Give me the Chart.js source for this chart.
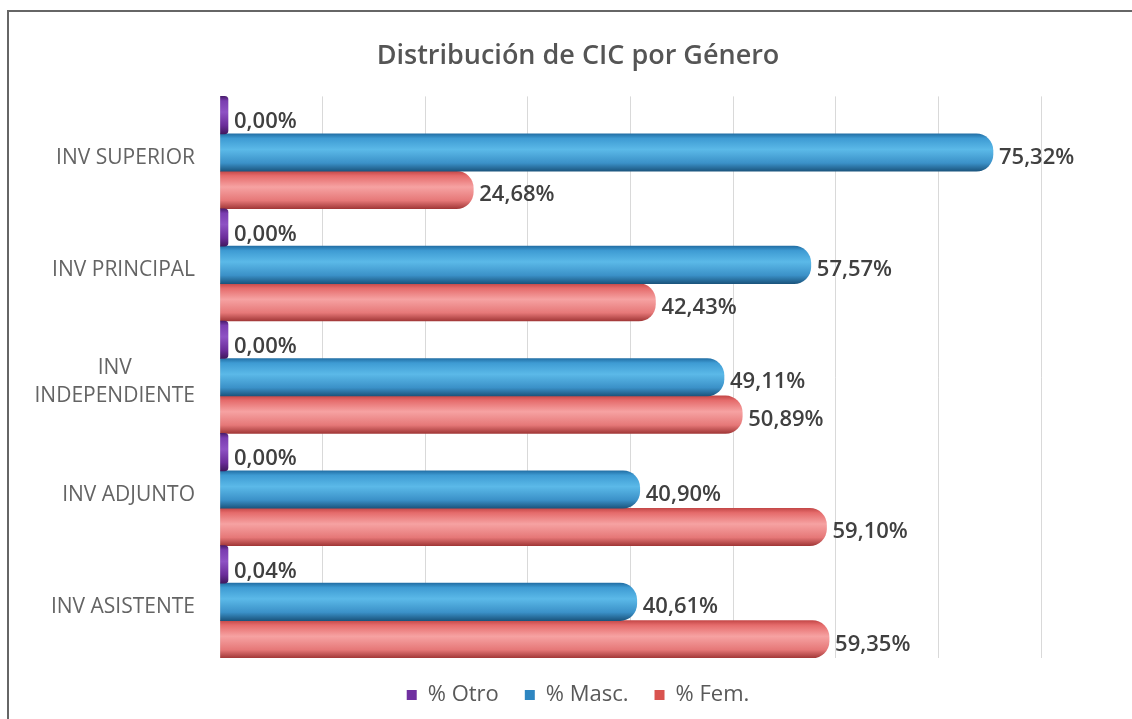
<!DOCTYPE html>
<html>
<head>
<meta charset="utf-8">
<script src="https://cdn.jsdelivr.net/npm/chart.js@4"></script>
<style>
  html, body { margin: 0; padding: 0; background: #fff; }
  #wrap { width: 1132px; height: 719px; }
</style>
</head>
<body>
<div id="wrap"><canvas id="cicChart" width="1132" height="719"></canvas></div>
<script>
const categories = ["INV SUPERIOR", "INV PRINCIPAL", ["INV", "INDEPENDIENTE"], "INV ADJUNTO", "INV ASISTENTE"];
const otro = [0.00, 0.00, 0.00, 0.00, 0.04];
const masc = [75.32, 57.57, 49.11, 40.90, 40.61];
const fem = [24.68, 42.43, 50.89, 59.10, 59.35];
const seriesNames = ["% Otro", "% Masc.", "% Fem."];
const xMax = 80;

// colour stops across the bar thickness, for the tube look
const shades = {
  otro: ["#4a1d6e", "#7a3db0", "#8e52c4", "#6a2c99", "#42195f"],
  masc: ["#2370a6", "#3e9bd3", "#5bb9e8", "#3b91c8", "#1b557e"],
  fem: ["#c44848", "#e56b6b", "#f6a2a2", "#e67878", "#a23838"]
};

const tubePlugin = {
  id: "tube",
  beforeDatasetsDraw(chart) {
    const ctx = chart.ctx;
    chart.data.datasets.forEach((ds, i) => {
      const meta = chart.getDatasetMeta(i);
      const s = shades[ds.key];
      meta.data.forEach(el => {
        const h = el.height;
        const g = ctx.createLinearGradient(0, el.y - h / 2, 0, el.y + h / 2);
        g.addColorStop(0, s[0]);
        g.addColorStop(0.12, s[1]);
        g.addColorStop(0.42, s[2]);
        g.addColorStop(0.78, s[3]);
        g.addColorStop(1, s[4]);
        el.options = Object.assign({}, el.options, { backgroundColor: g });
      });
    });
  },
  afterDatasetsDraw(chart) {
    const ctx = chart.ctx;
    ctx.save();
    ctx.font = '600 22px "Open Sans"';
    ctx.fillStyle = "#404040";
    ctx.textAlign = "left";
    ctx.textBaseline = "middle";
    chart.data.datasets.forEach((ds, i) => {
      const meta = chart.getDatasetMeta(i);
      meta.data.forEach((el, j) => {
        const txt = ds.data[j].toFixed(2).replace(".", ",") + "%";
        const dy = ds.key === "otro" ? 7 : 5;
        ctx.fillText(txt, el.x + 6, el.y + dy);
      });
    });
    ctx.restore();
  }
};

const frameAndLabels = {
  id: "frameAndLabels",
  beforeDraw(chart) {
    const ctx = chart.ctx;
    ctx.save();
    ctx.strokeStyle = "#666";
    ctx.lineWidth = 2;
    ctx.beginPath();
    ctx.moveTo(8, 719);
    ctx.lineTo(8, 11);
    ctx.lineTo(1132, 11);
    ctx.stroke();
    ctx.restore();
  },
  afterDraw(chart) {
    const ctx = chart.ctx;
    const y = chart.scales.y;
    const right = 195;
    ctx.save();
    ctx.font = '21px "Open Sans"';
    ctx.fillStyle = "#646464";
    ctx.textAlign = "center";
    ctx.textBaseline = "middle";
    categories.forEach((lab, i) => {
      const lines = Array.isArray(lab) ? lab : [lab];
      const w = Math.max(...lines.map(l => ctx.measureText(l).width));
      const cx = right - w / 2;
      const cy = y.getPixelForTick(i) + 5;
      const lh = 28;
      lines.forEach((l, k) => {
        ctx.fillText(l, cx, cy + (k - (lines.length - 1) / 2) * lh);
      });
    });
    ctx.restore();
  }
};

new Chart(document.getElementById("cicChart"), {
  type: "bar",
  data: {
    labels: categories,
    datasets: [
      { key: "otro", label: seriesNames[0], data: otro, backgroundColor: "#7030a0", minBarLength: 8, borderRadius: 4, clip: false },
      { key: "masc", label: seriesNames[1], data: masc, backgroundColor: "#2e86c1", borderRadius: 17 },
      { key: "fem", label: seriesNames[2], data: fem, backgroundColor: "#d9534f", borderRadius: 17 }
    ]
  },
  options: {
    indexAxis: "y",
    responsive: false,
    animation: false,
    layout: { padding: { left: 115, right: 91, top: 0, bottom: 3 } },
    datasets: { bar: { categoryPercentage: 1, barPercentage: 1, borderSkipped: "start" } },
    scales: {
      x: {
        min: 0,
        max: xMax,
        ticks: { display: false, stepSize: 10 },
        grid: { color: "#d9d9d9", drawTicks: false },
        border: { display: false }
      },
      y: {
        grid: { display: false },
        border: { display: false },
        ticks: { display: false },
        afterFit(scale) { scale.width = 105; }
      }
    },
    plugins: {
      title: {
        display: true,
        text: "Distribución de CIC por Género",
        color: "#555555",
        font: { family: "Open Sans", size: 27, weight: "600" },
        padding: { top: 40, bottom: 24 }
      },
      legend: {
        position: "bottom",
        labels: {
          color: "#595959",
          font: { family: "Open Sans", size: 22 },
          boxWidth: 10,
          boxHeight: 10,
          padding: 26
        }
      },
      tooltip: { enabled: false }
    }
  },
  plugins: [tubePlugin, frameAndLabels]
});
</script>
</body>
</html>
